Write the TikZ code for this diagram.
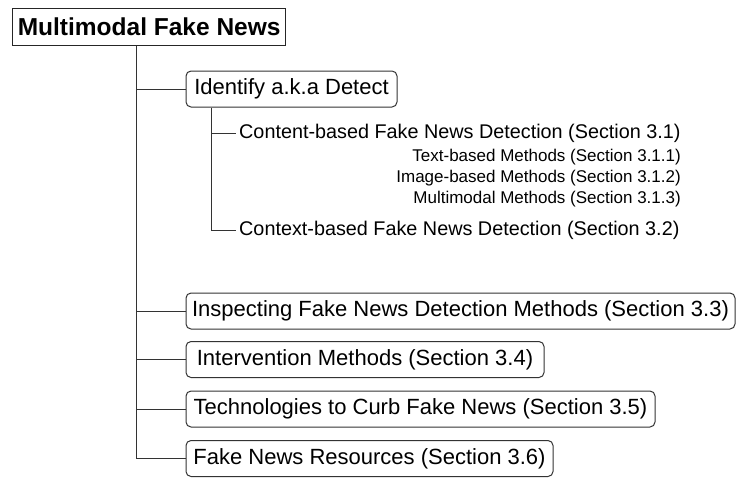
\documentclass[tikz,border=0pt]{standalone}
\usepackage{fontspec}
\setmainfont{Liberation Sans}
\begin{document}
\begin{tikzpicture}[x=1pt,y=-1pt,
  rootbox/.style={draw=black!85, line width=1.3pt, font=\fontsize{24.5}{28}\selectfont\bfseries,
    inner xsep=4pt, inner ysep=0pt, minimum height=37pt, anchor=north west},
  topicbox/.style={draw=black!80, line width=1pt, rounded corners=5pt, font=\fontsize{22}{26}\selectfont,
    inner xsep=4pt, inner ysep=0pt, minimum height=36pt, anchor=west},
  branchtext/.style={font=\fontsize{19.8}{23}\selectfont, inner xsep=3pt, inner ysep=1pt, anchor=west},
  leaftext/.style={font=\fontsize{17}{20}\selectfont, inner sep=0pt, anchor=east},
  link/.style={draw=black!80, line width=1pt}]
\useasboundingbox (0,0) rectangle (736,477);

% root of the outline
\node[rootbox, minimum width=273pt] (root) at (12,8) {Multimodal Fake News};

% first level topics
\node[topicbox, minimum width=211pt] (idf) at (185.5,89) {Identify a.k.a Detect};
\node[topicbox, minimum width=549pt] (insp) at (185.5,311) {Inspecting Fake News Detection Methods (Section 3.3)};
\node[topicbox, minimum width=358pt] (intv) at (185.5,359.5) {Intervention Methods (Section 3.4)};
\node[topicbox, minimum width=469pt] (tech) at (185.5,409) {Technologies to Curb Fake News (Section 3.5)};
\node[topicbox, minimum width=367pt] (res) at (185.5,458.5) {Fake News Resources (Section 3.6)};

% detection sub-topics
\node[branchtext] (cont) at (236,133) {Content-based Fake News Detection (Section 3.1)};
\node[leaftext] (txt) at (681,157.5) {Text-based Methods (Section 3.1.1)};
\node[leaftext] (img) at (681,178.5) {Image-based Methods (Section 3.1.2)};
\node[leaftext] (mm) at (681,199) {Multimodal Methods (Section 3.1.3)};
\node[branchtext] (ctx) at (236,230) {Context-based Fake News Detection (Section 3.2)};

% trunk from the root
\coordinate (trunk) at ([xshift=124pt]root.south west);
\draw[link] (trunk) |- (res.west);
\foreach \n in {idf,insp,intv,tech}
  \draw[link] (trunk |- \n.west) -- (\n.west);

% branch under "Identify"
\coordinate (sub) at ([xshift=25.5pt]idf.south west);
\draw[link] (sub) |- (ctx.west);
\draw[link] (sub |- cont.west) -- (cont.west);
\end{tikzpicture}
\end{document}
